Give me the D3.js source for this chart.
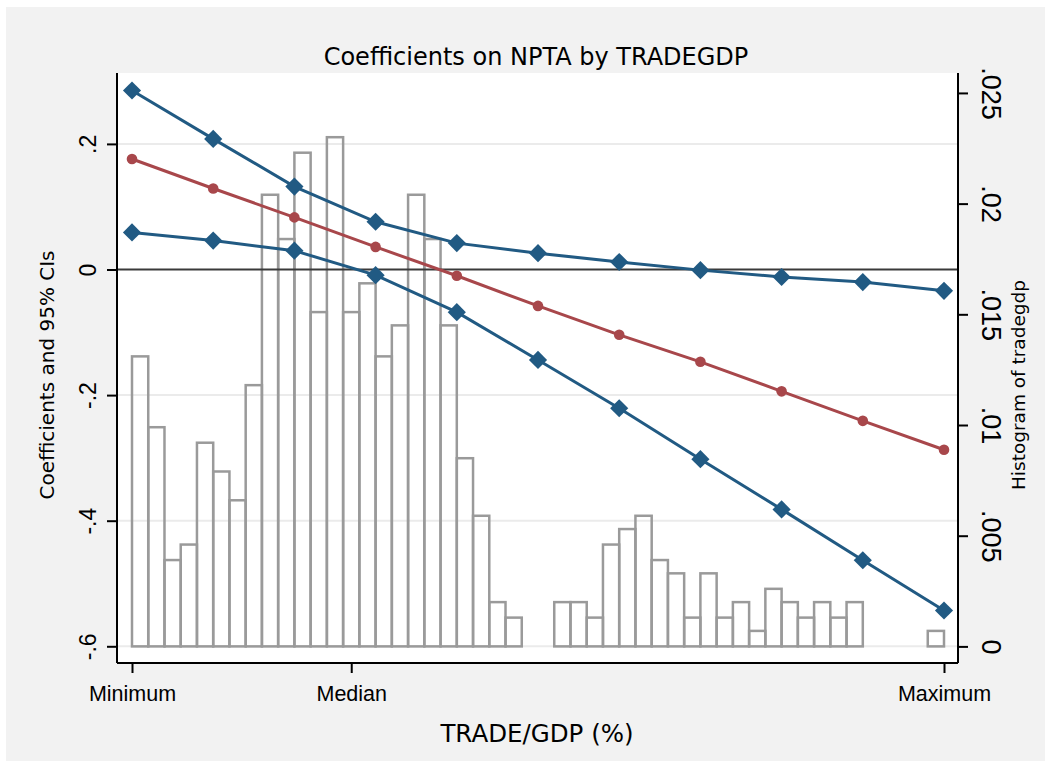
<!DOCTYPE html>
<html>
<head>
<meta charset="utf-8">
<script src="https://cdn.jsdelivr.net/npm/d3@7"></script>
<style>
  html, body { margin: 0; padding: 0; background: #ffffff; }
  svg { display: block; font-family: "DejaVu Sans", sans-serif; }
</style>
</head>
<body>
<svg id="chart" width="1051" height="768"></svg>
<script>
// Evaluation points along the TRADE/GDP range (share of the distance from minimum to maximum)
const evalPoints = [0, 0.1, 0.2, 0.3, 0.4, 0.5, 0.6, 0.7, 0.8, 0.9, 1.0];

// Marginal coefficient on NPTA and its 95% confidence bounds
const coef    = [0.176, 0.129, 0.083, 0.036, -0.010, -0.058, -0.104, -0.147, -0.194, -0.241, -0.287];
const ciUpper = [0.285, 0.208, 0.132, 0.076, 0.042, 0.026, 0.012, -0.001, -0.012, -0.020, -0.034];
const ciLower = [0.059, 0.046, 0.030, -0.009, -0.068, -0.144, -0.221, -0.302, -0.382, -0.463, -0.543];

// Histogram of tradegdp: density of each of 50 equal-width bins from minimum to maximum
const histDensity = [
  0.0131, 0.0099, 0.0039, 0.0046, 0.0092, 0.0079, 0.0066, 0.0118, 0.0204, 0.0184,
  0.0223, 0.0151, 0.0230, 0.0151, 0.0164, 0.0131, 0.0145, 0.0204, 0.0184, 0.0145,
  0.0085, 0.0059, 0.0020, 0.0013, 0.0000, 0.0000, 0.0020, 0.0020, 0.0013, 0.0046,
  0.0053, 0.0059, 0.0039, 0.0033, 0.0013, 0.0033, 0.0013, 0.0020, 0.0007, 0.0026,
  0.0020, 0.0013, 0.0020, 0.0013, 0.0020, 0.0000, 0.0000, 0.0000, 0.0000, 0.0007
];

// Axis ticks
const xTicks = [0, 0.27, 1];
const xTickLabels = ["Minimum", "Median", "Maximum"];
const yTicks = [-0.6, -0.4, -0.2, 0, 0.2];
const yTickLabels = ["-.6", "-.4", "-.2", "0", ".2"];
const y2Ticks = [0, 0.005, 0.01, 0.015, 0.02, 0.025];
const y2TickLabels = ["0", ".005", ".01", ".015", ".02", ".025"];

const W = 1051, H = 768;
const plot = { left: 117, right: 958, top: 73, bottom: 663 };
const navy = "#215a83";
const maroon = "#a8474b";

const svg = d3.select("#chart");

// outer panel
svg.append("rect").attr("x", 6).attr("y", 7).attr("width", W - 12).attr("height", H - 14)
  .attr("fill", "#f2f2f2");
svg.append("rect").attr("x", plot.left).attr("y", plot.top)
  .attr("width", plot.right - plot.left).attr("height", plot.bottom - plot.top)
  .attr("fill", "#ffffff");

// scales
const x = d3.scaleLinear().domain([0, 1]).range([132, 944]);
const y = d3.scaleLinear().domain([-0.6266, 0.3129]).range([plot.bottom, plot.top]);
const y2 = d3.scaleLinear().domain([-0.00075, 0.0259]).range([plot.bottom, plot.top]);

// horizontal gridlines at the left-axis ticks
svg.append("g").selectAll("line").data(yTicks.filter(d => d !== 0)).join("line")
  .attr("x1", plot.left).attr("x2", plot.right)
  .attr("y1", d => y(d)).attr("y2", d => y(d))
  .attr("stroke", "#ebebeb").attr("stroke-width", 2);

// histogram bars (outline only)
const binW = 1 / histDensity.length;
const bins = histDensity.map((d, i) => ({ x0: i * binW, x1: (i + 1) * binW, d }))
  .filter(b => b.d > 0);
svg.append("g").selectAll("rect").data(bins).join("rect")
  .attr("x", b => x(b.x0))
  .attr("width", b => x(b.x1) - x(b.x0))
  .attr("y", b => y2(b.d))
  .attr("height", b => y2(0) - y2(b.d))
  .attr("fill", "none")
  .attr("stroke", "#9a9a9a")
  .attr("stroke-width", 2.5);

// reference line at zero
svg.append("line")
  .attr("x1", plot.left).attr("x2", plot.right)
  .attr("y1", y(0)).attr("y2", y(0))
  .attr("stroke", "#3a3a3a").attr("stroke-width", 2.2);

// coefficient and confidence lines
const line = d3.line().x((d, i) => x(evalPoints[i])).y(d => y(d));
const series = [
  { vals: coef, color: maroon, marker: "circle" },
  { vals: ciUpper, color: navy, marker: "diamond" },
  { vals: ciLower, color: navy, marker: "diamond" }
];
series.forEach(s => {
  svg.append("path").datum(s.vals)
    .attr("d", line).attr("fill", "none")
    .attr("stroke", s.color).attr("stroke-width", 3);
});
series.forEach(s => {
  const g = svg.append("g");
  if (s.marker === "circle") {
    g.selectAll("circle").data(s.vals).join("circle")
      .attr("cx", (d, i) => x(evalPoints[i])).attr("cy", d => y(d))
      .attr("r", 5.3).attr("fill", s.color);
  } else {
    const sym = d3.symbol().type(d3.symbolSquare).size(165);
    g.selectAll("path").data(s.vals).join("path")
      .attr("d", sym)
      .attr("transform", (d, i) => `translate(${x(evalPoints[i])},${y(d)}) rotate(45)`)
      .attr("fill", s.color);
  }
});

// axes
const axisStyle = g => {
  g.select(".domain").attr("stroke", "#000").attr("stroke-width", 2);
  g.selectAll(".tick line").attr("stroke", "#000").attr("stroke-width", 2);
  g.selectAll(".tick text").attr("fill", "#000");
};

const xAxis = svg.append("g")
  .attr("transform", `translate(0,${plot.bottom})`)
  .call(d3.axisBottom(x).tickValues(xTicks)
    .tickFormat((d, i) => xTickLabels[i]).tickSize(10).tickSizeOuter(0).tickPadding(10));
xAxis.select(".domain").attr("d", `M${plot.left},0H${plot.right}`);
xAxis.call(axisStyle);
xAxis.selectAll(".tick text").attr("font-size", 21.5).attr("dy", "0.85em");

const yAxis = svg.append("g")
  .attr("transform", `translate(${plot.left},0)`)
  .call(d3.axisLeft(y).tickValues(yTicks)
    .tickFormat((d, i) => yTickLabels[i]).tickSize(10).tickSizeOuter(0));
yAxis.select(".domain").attr("d", `M0,${plot.top}V${plot.bottom}`);
yAxis.call(axisStyle);
yAxis.selectAll(".tick text")
  .attr("font-size", 23)
  .attr("x", null).attr("dy", null)
  .attr("text-anchor", "middle")
  .attr("dominant-baseline", "central")
  .attr("transform", "translate(-29,0) rotate(-90)");

const y2Axis = svg.append("g")
  .attr("transform", `translate(${plot.right},0)`)
  .call(d3.axisRight(y2).tickValues(y2Ticks)
    .tickFormat((d, i) => y2TickLabels[i]).tickSize(10).tickSizeOuter(0));
y2Axis.select(".domain").attr("d", `M0,${plot.top}V${plot.bottom}`);
y2Axis.call(axisStyle);
y2Axis.selectAll(".tick text")
  .attr("font-size", 27)
  .attr("x", null).attr("dy", null)
  .attr("text-anchor", "middle")
  .attr("dominant-baseline", "central")
  .attr("transform", "translate(33,0) rotate(90)");

// titles
svg.append("text")
  .attr("x", 536).attr("y", 57)
  .attr("text-anchor", "middle").attr("dominant-baseline", "central")
  .attr("font-size", 24).attr("fill", "#000")
  .text("Coefficients on NPTA by TRADEGDP");

svg.append("text")
  .attr("x", 537).attr("y", 733)
  .attr("text-anchor", "middle").attr("dominant-baseline", "central")
  .attr("font-size", 24.5).attr("fill", "#000")
  .text("TRADE/GDP (%)");

svg.append("text")
  .attr("transform", "translate(47,375) rotate(-90)")
  .attr("text-anchor", "middle").attr("dominant-baseline", "central")
  .attr("font-size", 20).attr("fill", "#000")
  .text("Coefficients and 95% CIs");

svg.append("text")
  .attr("transform", "translate(1018,385) rotate(-90)")
  .attr("text-anchor", "middle").attr("dominant-baseline", "central")
  .attr("font-size", 18.5).attr("fill", "#000")
  .text("Histogram of tradegdp");
</script>
</body>
</html>
